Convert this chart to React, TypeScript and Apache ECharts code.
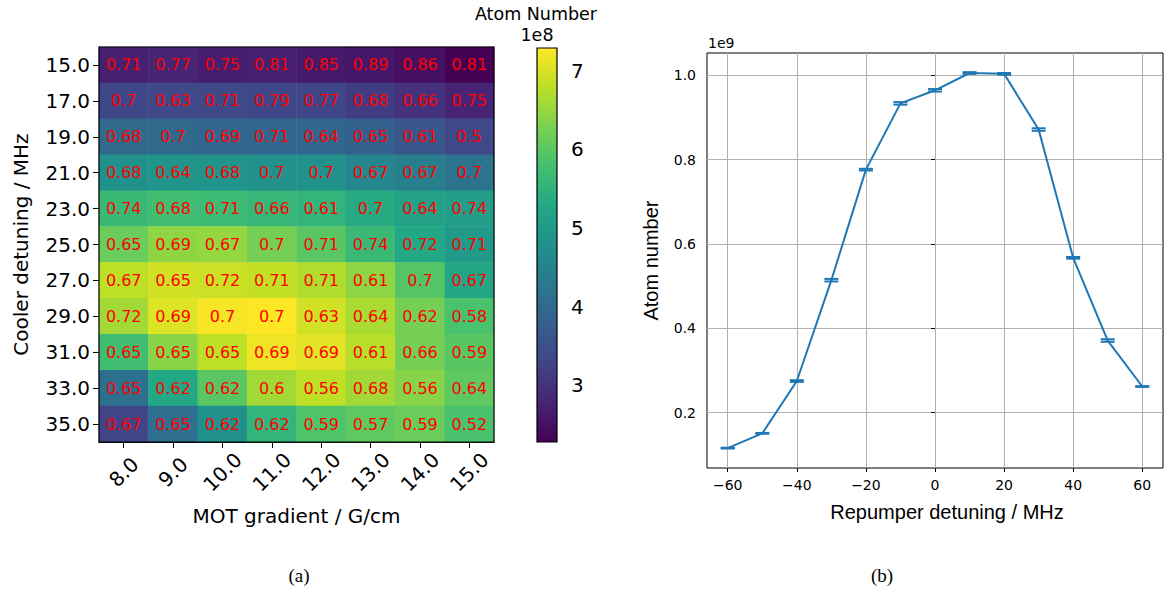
import React, { useEffect, useRef } from 'react';
import * as echarts from 'echarts';

// ---- (a) MOT optimisation grid -------------------------------------------
const MOT_GRADIENT = ['8.0', '9.0', '10.0', '11.0', '12.0', '13.0', '14.0', '15.0'];
const COOLER_DETUNING = ['15.0', '17.0', '19.0', '21.0', '23.0', '25.0', '27.0', '29.0', '31.0', '33.0', '35.0'];

// Atom number (units of 1e8), one row per cooler detuning, one column per gradient
const ATOM_NUMBER_1E8 = [
  [2.73, 2.78, 2.68, 2.73, 2.63, 2.58, 2.48, 2.28],
  [3.33, 3.38, 3.38, 3.33, 3.33, 3.18, 2.98, 2.78],
  [3.98, 3.98, 3.93, 3.93, 3.93, 3.83, 3.63, 3.38],
  [4.79, 4.84, 4.84, 4.79, 4.79, 4.58, 4.43, 4.18],
  [5.64, 5.74, 5.69, 5.59, 5.54, 5.34, 5.14, 5.04],
  [6.14, 6.44, 6.49, 6.24, 5.99, 5.64, 5.29, 4.99],
  [6.79, 6.94, 6.89, 6.84, 6.69, 6.44, 5.94, 5.24],
  [6.59, 7.04, 7.24, 7.29, 6.94, 6.64, 6.24, 5.84],
  [5.74, 6.39, 6.79, 7.19, 7.09, 6.74, 6.24, 5.99],
  [4.13, 5.29, 5.99, 6.59, 6.79, 6.59, 6.39, 6.04],
  [3.28, 4.08, 4.79, 5.54, 5.89, 6.04, 6.14, 5.84],
];

// Annotated value printed in each cell
const CELL_TEXT = [
  [0.71, 0.77, 0.75, 0.81, 0.85, 0.89, 0.86, 0.81],
  [0.7, 0.63, 0.71, 0.79, 0.77, 0.68, 0.66, 0.75],
  [0.68, 0.7, 0.69, 0.71, 0.64, 0.65, 0.61, 0.5],
  [0.68, 0.64, 0.68, 0.7, 0.7, 0.67, 0.67, 0.7],
  [0.74, 0.68, 0.71, 0.66, 0.61, 0.7, 0.64, 0.74],
  [0.65, 0.69, 0.67, 0.7, 0.71, 0.74, 0.72, 0.71],
  [0.67, 0.65, 0.72, 0.71, 0.71, 0.61, 0.7, 0.67],
  [0.72, 0.69, 0.7, 0.7, 0.63, 0.64, 0.62, 0.58],
  [0.65, 0.65, 0.65, 0.69, 0.69, 0.61, 0.66, 0.59],
  [0.65, 0.62, 0.62, 0.6, 0.56, 0.68, 0.56, 0.64],
  [0.67, 0.65, 0.62, 0.62, 0.59, 0.57, 0.59, 0.52],
];

const ATOM_MIN = 2.28;
const ATOM_MAX = 7.29;
const COLORBAR_TICKS = [3, 4, 5, 6, 7];

// ---- (b) repumper detuning scan ------------------------------------------
const REPUMP_DETUNING = [-60, -50, -40, -30, -20, -10, 0, 10, 20, 30, 40, 50, 60];
const REPUMP_ATOMS_1E9 = [0.116, 0.151, 0.275, 0.514, 0.776, 0.933, 0.964, 1.005, 1.003, 0.871, 0.567, 0.371, 0.262];
const REPUMP_ERR_1E9 = [0.001, 0.001, 0.002, 0.003, 0.002, 0.003, 0.003, 0.002, 0.002, 0.003, 0.002, 0.003, 0.001];
const REPUMP_X_TICKS = [-60, -40, -20, 0, 20, 40, 60];
const REPUMP_Y_TICKS = [0.2, 0.4, 0.6, 0.8, 1.0];

const VIRIDIS = [
  '#440154', '#482475', '#414487', '#355f8d', '#2a788e', '#21918c',
  '#22a884', '#44bf70', '#7ad151', '#bddf26', '#fde725',
];

const DEJAVU = 'DejaVu Sans';
const ARIAL = 'Liberation Sans';
const SERIF = 'Liberation Serif';

// Layout (pixels)
const HM = { left: 99, top: 47, width: 395, height: 395 };
const CB = { left: 537, top: 48, width: 20, height: 394 };
const RP = { left: 707, top: 53, right: 4, bottom: 126 };
const W = 1167;
const H = 594;

const BLUE = '#1f77b4';

function minusFmt(v: number) {
  return v < 0 ? '\u2212' + Math.abs(v) : String(v);
}

export default function App() {
  const ref = useRef<HTMLDivElement>(null);

  useEffect(() => {
    if (!ref.current) return;
    const chart = echarts.init(ref.current, undefined, { renderer: 'svg' });

    const heatData: any[] = [];
    ATOM_NUMBER_1E8.forEach((row, yi) =>
      row.forEach((v, xi) => heatData.push([xi, yi, v, CELL_TEXT[yi][xi]]))
    );

    const lineData = REPUMP_DETUNING.map((x, i) => [x, REPUMP_ATOMS_1E9[i]]);
    const errData = REPUMP_DETUNING.map((x, i) => [x, REPUMP_ATOMS_1E9[i], REPUMP_ERR_1E9[i]]);

    const gradientStops = VIRIDIS.map((c, i) => ({ offset: i / (VIRIDIS.length - 1), color: c }));

    chart.setOption({
      animation: false,
      backgroundColor: '#ffffff',
      grid: [
        { ...HM, show: false, containLabel: false },
        { ...CB, show: false, containLabel: false },
        { ...RP, show: true, borderColor: '#000', borderWidth: 1, containLabel: false },
      ],
      xAxis: [
        {
          gridIndex: 0,
          type: 'category',
          data: MOT_GRADIENT,
          name: 'MOT gradient / G/cm',
          nameLocation: 'middle',
          nameGap: 64,
          nameTextStyle: { fontFamily: DEJAVU, fontSize: 20, color: '#000', verticalAlign: 'top' },
          axisLine: { show: true, lineStyle: { color: '#000', width: 1 } },
          axisTick: { show: true, alignWithLabel: true, length: 6, lineStyle: { color: '#000' } },
          axisLabel: {
            rotate: 45,
            align: 'center',
            verticalAlign: 'middle',
            margin: 30,
            fontFamily: DEJAVU,
            fontSize: 20,
            color: '#000',
          },
          splitLine: { show: false },
        },
        {
          gridIndex: 1,
          type: 'value',
          show: false,
          min: 0,
          max: 1,
        },
        {
          gridIndex: 2,
          type: 'value',
          min: -66,
          max: 66,
          name: 'Repumper detuning / MHz',
          nameLocation: 'middle',
          nameGap: 34,
          nameTextStyle: {
            fontFamily: ARIAL,
            fontSize: 20,
            color: '#000',
            verticalAlign: 'top',
            padding: [0, 0, 0, 24],
          },
          axisLine: { show: false },
          axisTick: { show: true, length: 4, customValues: REPUMP_X_TICKS, lineStyle: { color: '#000' } },
          axisLabel: {
            customValues: REPUMP_X_TICKS,
            formatter: (v: number) => minusFmt(v),
            fontFamily: DEJAVU,
            fontSize: 14,
            color: '#000',
            margin: 10,
          },
          splitLine: { show: true, lineStyle: { color: '#b0b0b0', width: 1 } },
        },
      ],
      yAxis: [
        {
          gridIndex: 0,
          type: 'category',
          data: COOLER_DETUNING,
          inverse: true,
          name: 'Cooler detuning / MHz',
          nameLocation: 'middle',
          nameGap: 68,
          nameRotate: 90,
          nameTextStyle: { fontFamily: DEJAVU, fontSize: 20, color: '#000' },
          axisLine: { show: true, lineStyle: { color: '#000', width: 1 } },
          axisTick: { show: true, alignWithLabel: true, length: 6, lineStyle: { color: '#000' } },
          axisLabel: { fontFamily: DEJAVU, fontSize: 20, color: '#000', margin: 9 },
          splitLine: { show: false },
        },
        {
          gridIndex: 1,
          type: 'value',
          position: 'right',
          min: ATOM_MIN,
          max: ATOM_MAX,
          axisLine: { show: false },
          axisTick: { show: true, length: 6, customValues: COLORBAR_TICKS, lineStyle: { color: '#000' } },
          axisLabel: {
            customValues: COLORBAR_TICKS,
            fontFamily: DEJAVU,
            fontSize: 20,
            color: '#000',
            margin: 14,
          },
          splitLine: { show: false },
        },
        {
          gridIndex: 2,
          type: 'value',
          min: 0.0689,
          max: 1.0524,
          name: 'Atom number',
          nameLocation: 'middle',
          nameGap: 46,
          nameRotate: 90,
          nameTextStyle: { fontFamily: ARIAL, fontSize: 20, color: '#000' },
          axisLine: { show: false },
          axisTick: { show: true, length: 4, customValues: REPUMP_Y_TICKS, lineStyle: { color: '#000' } },
          axisLabel: {
            customValues: REPUMP_Y_TICKS,
            formatter: (v: number) => v.toFixed(1),
            fontFamily: DEJAVU,
            fontSize: 14,
            color: '#000',
            margin: 11,
          },
          splitLine: { show: true, lineStyle: { color: '#b0b0b0', width: 1 } },
        },
      ],
      visualMap: {
        type: 'continuous',
        show: false,
        min: ATOM_MIN,
        max: ATOM_MAX,
        dimension: 2,
        seriesIndex: 0,
        inRange: { color: VIRIDIS },
      },
      series: [
        {
          type: 'heatmap',
          xAxisIndex: 0,
          yAxisIndex: 0,
          data: heatData,
          label: {
            show: true,
            color: '#ff0000',
            fontFamily: DEJAVU,
            fontSize: 16,
            formatter: (p: any) => String(p.value[3]),
          },
          itemStyle: { borderWidth: 0 },
          emphasis: { disabled: true },
        },
        {
          type: 'line',
          xAxisIndex: 2,
          yAxisIndex: 2,
          data: lineData,
          symbol: 'none',
          lineStyle: { color: BLUE, width: 2 },
          z: 3,
        },
        {
          type: 'custom',
          xAxisIndex: 2,
          yAxisIndex: 2,
          data: errData,
          encode: { x: 0, y: 1 },
          z: 4,
          renderItem: (params: any, api: any) => {
            const x = api.value(0);
            const y = api.value(1);
            const e = api.value(2);
            const hi = api.coord([x, y + e]);
            const lo = api.coord([x, y - e]);
            const half = 7;
            const style = { stroke: BLUE, lineWidth: 2 };
            return {
              type: 'group',
              children: [
                { type: 'line', shape: { x1: hi[0], y1: hi[1], x2: lo[0], y2: lo[1] }, style },
                { type: 'line', shape: { x1: hi[0] - half, y1: hi[1], x2: hi[0] + half, y2: hi[1] }, style },
                { type: 'line', shape: { x1: lo[0] - half, y1: lo[1], x2: lo[0] + half, y2: lo[1] }, style },
              ],
            };
          },
        },
      ],
      graphic: [
        {
          type: 'rect',
          z: 100,
          shape: { x: HM.left, y: HM.top, width: HM.width, height: HM.height },
          style: { fill: 'none', stroke: '#000', lineWidth: 1.2 },
          silent: true,
        },
        {
          type: 'rect',
          z: 100,
          shape: { x: CB.left, y: CB.top, width: CB.width, height: CB.height },
          style: {
            fill: new echarts.graphic.LinearGradient(0, 1, 0, 0, gradientStops),
            stroke: '#000',
            lineWidth: 1.2,
          },
          silent: true,
        },
        {
          type: 'text',
          z: 100,
          x: 536,
          y: 14,
          style: {
            text: 'Atom Number',
            fontFamily: DEJAVU,
            fontSize: 17.5,
            fill: '#000',
            align: 'center',
            verticalAlign: 'middle',
          },
        },
        {
          type: 'text',
          z: 100,
          x: 537,
          y: 35,
          style: {
            text: '1e8',
            fontFamily: DEJAVU,
            fontSize: 17.5,
            fill: '#000',
            align: 'center',
            verticalAlign: 'middle',
          },
        },
        {
          type: 'text',
          z: 100,
          x: 708,
          y: 43,
          style: {
            text: '1e9',
            fontFamily: DEJAVU,
            fontSize: 14,
            fill: '#000',
            align: 'left',
            verticalAlign: 'middle',
          },
        },
        {
          type: 'text',
          z: 100,
          x: 299,
          y: 575,
          style: {
            text: '(a)',
            fontFamily: SERIF,
            fontSize: 19,
            fill: '#000',
            align: 'center',
            verticalAlign: 'middle',
          },
        },
        {
          type: 'text',
          z: 100,
          x: 882,
          y: 575,
          style: {
            text: '(b)',
            fontFamily: SERIF,
            fontSize: 19,
            fill: '#000',
            align: 'center',
            verticalAlign: 'middle',
          },
        },
      ],
    });

    return () => chart.dispose();
  }, []);

  return (
    <div
      ref={ref}
      style={{ position: 'absolute', left: 0, top: 0, width: W, height: H, background: '#fff' }}
    />
  );
}
